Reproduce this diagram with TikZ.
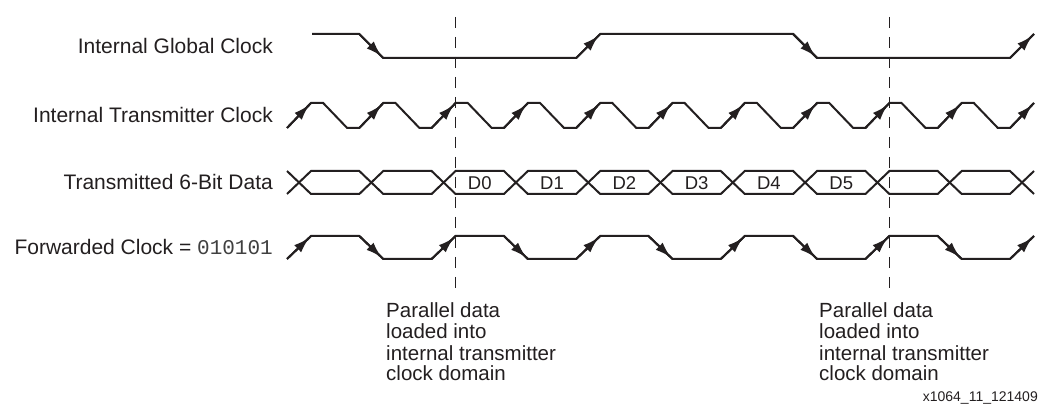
\documentclass[tikz,border=0pt]{standalone}
\usepackage{fontspec}
\setmainfont{Liberation Sans}
\setmonofont{Liberation Mono}
\usetikzlibrary{arrows.meta,decorations.markings}
\definecolor{ink}{HTML}{231F20}
\begin{document}
\begin{tikzpicture}[x=1pt,y=-1pt,
  wave/.style={color=ink,line width=2pt,line join=miter},
  edgearr/.style={decoration={markings,mark=at position 0.93 with {\arrow{Latex[length=16pt,width=10pt]}}},postaction=decorate},
  dashline/.style={color=ink,line width=1.2pt,dash pattern=on 11pt off 9pt},
  lbl/.style={anchor=base east,inner sep=0pt,text=ink,font=\fontsize{21}{25}\selectfont},
  dlbl/.style={anchor=base,inner sep=0pt,text=ink,font=\fontsize{18.5}{20}\selectfont},
  note/.style={anchor=base west,inner sep=0pt,text=ink,font=\fontsize{20.5}{21}\selectfont}
]
\fill[white] (0,0) rectangle (1041,411);
\useasboundingbox (0,0) rectangle (1041,411);

% dashed reference lines
\coordinate (d1t) at (455.6,17); \coordinate (d1b) at (455.6,288);
\coordinate (d2t) at (889.4,17); \coordinate (d2b) at (889.4,288);
\draw[dashline] (d1t) -- (d1b);
\draw[dashline] (d2t) -- (d2b);

% labels
\node[lbl] (lg) at (273,53.5) {Internal Global Clock};
\node[lbl] (lt) at (273,123) {Internal Transmitter Clock};
\node[lbl] (ld) at (273,190) {Transmitted 6-Bit Data};
\node[lbl] (lf) at (273,255) {Forwarded Clock = {\color{black!75}\ttfamily 010101}};

% internal global clock
\draw[wave] (312,34) -- (359.3,34) -- (383.3,58) -- (576.2,58) -- (600.2,34) -- (793.1,34) -- (817.1,58) -- (1010,58) -- (1034,34);
\draw[wave,edgearr] (359.3,34) -- (383.3,58);
\draw[wave,edgearr] (576.2,58) -- (600.2,34);
\draw[wave,edgearr] (793.1,34) -- (817.1,58);
\draw[wave,edgearr] (1010,58) -- (1034,34);

% internal transmitter clock
\draw[wave] (287,128) \foreach \k in {0,...,9} { -- ++(24,-25) -- ++(12.15,0) -- ++(24,25) -- ++(12.15,0) } -- ++(24,-25);
\foreach \k in {0,...,10} \draw[wave,edgearr] ({287+72.3*\k},128) -- ++(24,-25);

% transmitted data
\draw[wave] (287,171) -- (311,194) -- (359.3,194) -- (383.3,171) -- (431.6,171) -- (455.6,194) -- (503.9,194) -- (527.9,171) -- (576.2,171) -- (600.2,194) -- (648.5,194) -- (672.5,171) -- (720.8,171) -- (744.8,194) -- (793.1,194) -- (817.1,171) -- (865.4,171) -- (889.4,194) -- (937.7,194) -- (961.7,171) -- (1010,171) -- (1034,194);
\draw[wave] (287,194) -- (311,171) -- (359.3,171) -- (383.3,194) -- (431.6,194) -- (455.6,171) -- (503.9,171) -- (527.9,194) -- (576.2,194) -- (600.2,171) -- (648.5,171) -- (672.5,194) -- (720.8,194) -- (744.8,171) -- (793.1,171) -- (817.1,194) -- (865.4,194) -- (889.4,171) -- (937.7,171) -- (961.7,194) -- (1010,194) -- (1034,171);
\node[dlbl] (d0) at (479.75,189.5) {D0};
\node[dlbl] (d1) at (552.05,189.5) {D1};
\node[dlbl] (d2) at (624.35,189.5) {D2};
\node[dlbl] (d3) at (696.65,189.5) {D3};
\node[dlbl] (d4) at (768.95,189.5) {D4};
\node[dlbl] (d5) at (841.25,189.5) {D5};

% forwarded clock
\draw[wave] (287,259) -- (311,236) -- (359.3,236) -- (383.3,259) -- (431.6,259) -- (455.6,236) -- (503.9,236) -- (527.9,259) -- (576.2,259) -- (600.2,236) -- (648.5,236) -- (672.5,259) -- (720.8,259) -- (744.8,236) -- (793.1,236) -- (817.1,259) -- (865.4,259) -- (889.4,236) -- (937.7,236) -- (961.7,259) -- (1010,259) -- (1034,236);
\foreach \k in {0,2,...,10} \draw[wave,edgearr] ({287+72.3*\k},259) -- ++(24,-23);
\foreach \k in {1,3,...,9} \draw[wave,edgearr] ({287+72.3*\k},236) -- ++(24,23);

% annotations
\node[note] (a1) at (386,318) {Parallel data};
\node[note] (a2) at (386,339) {loaded into};
\node[note] (a3) at (386,360) {internal transmitter};
\node[note] (a4) at (386,381) {clock domain};
\node[note] (b1) at (819,318) {Parallel data};
\node[note] (b2) at (819,339) {loaded into};
\node[note] (b3) at (819,360) {internal transmitter};
\node[note] (b4) at (819,381) {clock domain};

\node[anchor=base east,inner sep=0pt,text=ink,font=\fontsize{14}{16}\selectfont] (fig) at (1038,401) {x1064\_11\_121409};
\end{tikzpicture}
\end{document}
